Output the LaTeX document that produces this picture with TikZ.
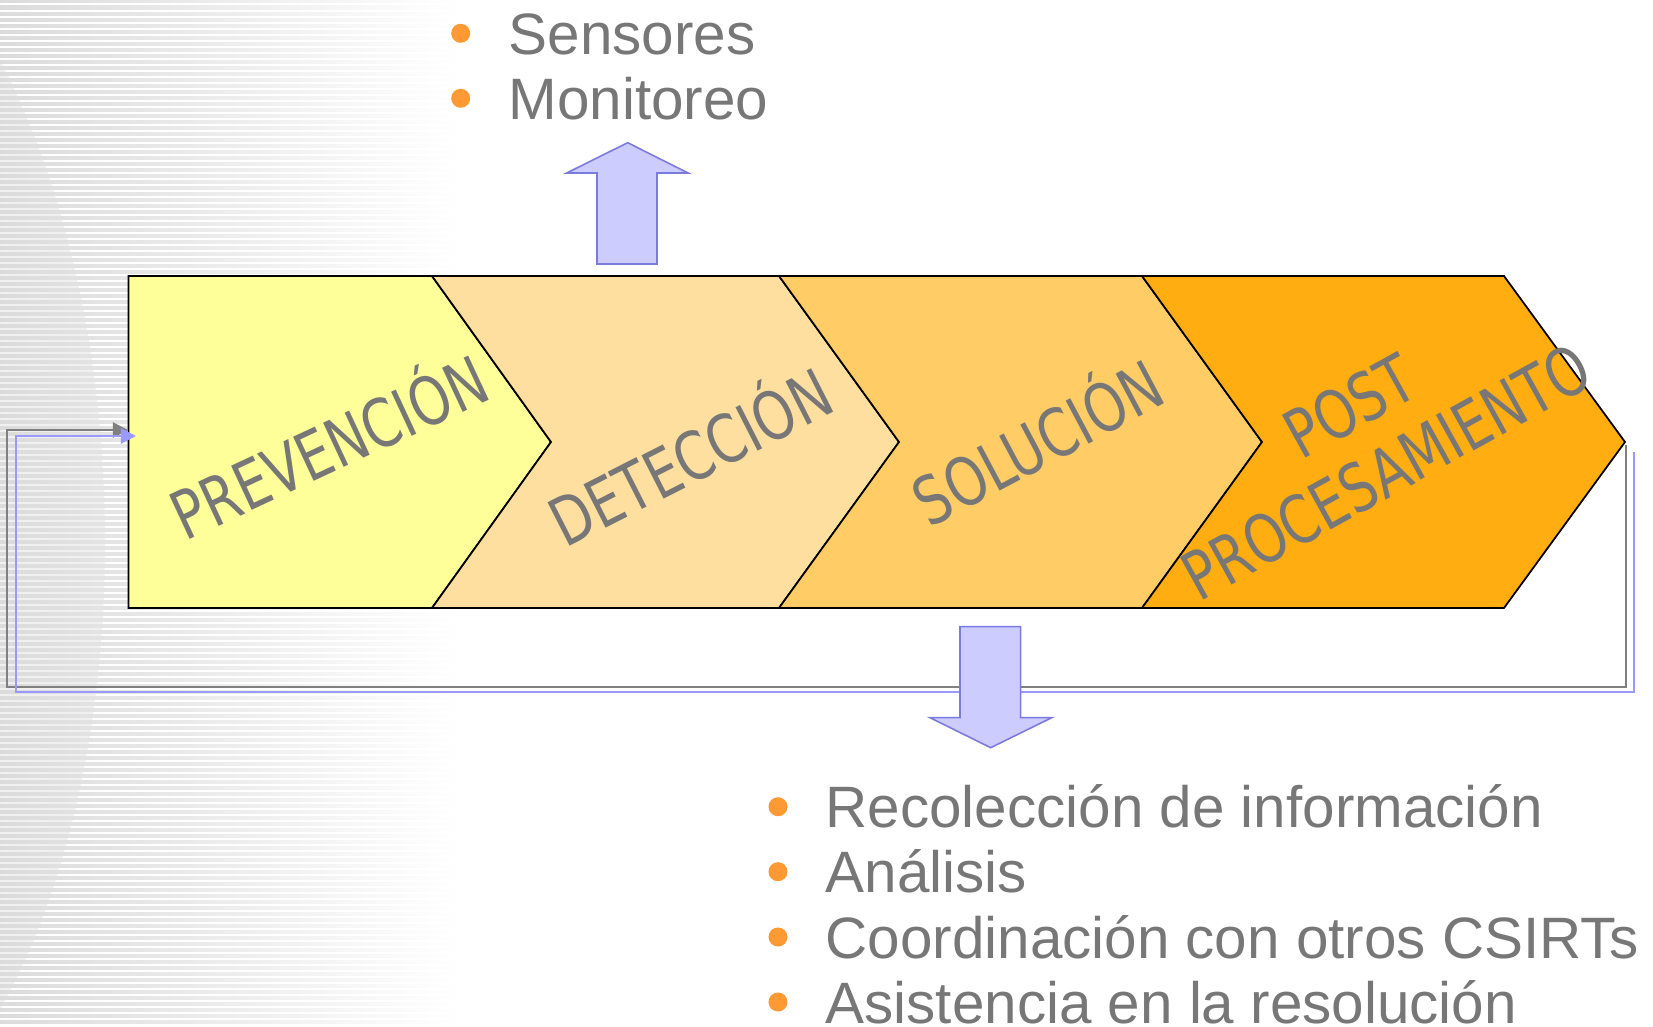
\documentclass[tikz,border=0pt]{standalone}
\usepackage{fontspec}
\setmainfont{Liberation Sans}
\newfontfamily\phasefont{DejaVu Sans}
\usetikzlibrary{arrows.meta}

\definecolor{prevcol}{HTML}{FFFF99}
\definecolor{detcol}{HTML}{FFDF9F}
\definecolor{solcol}{HTML}{FFCC66}
\definecolor{postcol}{HTML}{FFAD10}
\definecolor{txtgray}{HTML}{777777}
\definecolor{dotorange}{HTML}{FF9933}
\definecolor{arrowfill}{HTML}{CCCCFF}
\definecolor{arrowline}{HTML}{7B7BDD}
\definecolor{loopblue}{HTML}{9999FF}
\definecolor{loopgray}{HTML}{808080}

\begin{document}
\begin{tikzpicture}[x=0.01cm,y=-0.01cm,
    phase/.style={draw=black,line width=0.5pt,line join=miter},
    phaselabel/.style={text=txtgray,inner sep=0pt,align=center,rotate=#1,xscale=0.78,
        font={\phasefont\fontsize{19pt}{21.3pt}\selectfont}},
    listitem/.style={text=txtgray,anchor=base west,inner sep=0pt,
        font={\fontsize{16.6pt}{20pt}\selectfont}},
    bulletdot/.style={circle,fill=dotorange,inner sep=0pt,minimum size=0.19cm},
    bigarrow/.style={fill=arrowfill,draw=arrowline,line width=0.45pt,line join=miter},
    loopline/.style={line width=0.6pt,-{Triangle[length=4.3pt,width=4.3pt]}}]
\useasboundingbox (0,0) rectangle (1653,1027);
\fill[white] (0,0) rectangle (1653,1027);

% faded background on the left
\fill[gray!12] (0,60) .. controls (140,330) and (140,760) .. (0,1010) -- cycle;
\foreach \y in {0,6,...,1022}
  \shade[left color=black!14,right color=white] (0,\y) rectangle (460,\y+3);

% the four phases
\fill[prevcol,phase] (128.6,276)--(432,276)--(551,442)--(432,608)--(128.6,608)--cycle;
\fill[detcol,phase] (432,276)--(779,276)--(899,442)--(779,608)--(432,608)--(551,442)--cycle;
\fill[solcol,phase] (779,276)--(1142,276)--(1262,442)--(1142,608)--(779,608)--(899,442)--cycle;
\fill[postcol,phase] (1142,276)--(1504,276)--(1625,442)--(1504,608)--(1142,608)--(1262,442)--cycle;

\node[phaselabel=25] (prev) at (327,442) {PREVENCIÓN};
\node[phaselabel=27] (det) at (688,452) {DETECCIÓN};
\node[phaselabel=28] (sol) at (1035,438) {SOLUCIÓN};
\node[phaselabel=29] (post) at (1368,439) {POST\\PROCESAMIENTO};

% feedback loop
\coordinate (grayout) at (1626,445);
\coordinate (grayin) at (128,430);
\coordinate (blueout) at (1634,452);
\coordinate (bluein) at (136,436);
\draw[loopline,loopgray] (grayout) |- (7,687) |- (grayin);
\draw[loopline,loopblue] (blueout) |- (16,692) |- (bluein);

% arrows to the lists
\draw[bigarrow] (597,264)--(597,173)--(566.7,173)--(627.7,142.7)--(688,173)--(657,173)--(657,264)--cycle;
\draw[bigarrow] (960,626.7)--(1020.7,626.7)--(1020.7,717.7)--(1051.7,717.7)--(990.7,747.7)--(930,717.7)--(960,717.7)--cycle;

% detection list
\node[bulletdot] (d1) at (460.7,33.3) {};
\node[bulletdot] (d2) at (460.7,98.3) {};
\node[listitem] (sens) at (508,54.3) {Sensores};
\node[listitem] (mon) at (508,119.3) {Monitoreo};

% solution list
\node[bulletdot] (s1) at (778,806.7) {};
\node[bulletdot] (s2) at (778,871.7) {};
\node[bulletdot] (s3) at (778,937) {};
\node[bulletdot] (s4) at (778,1002) {};
\node[listitem] (rec) at (825,827.7) {Recolección de información};
\node[listitem] (ana) at (825,892.7) {Análisis};
\node[listitem] (coord) at (825,958) {Coordinación con otros CSIRTs};
\node[listitem] (asis) at (825,1023) {Asistencia en la resolución};

\end{tikzpicture}
\end{document}
